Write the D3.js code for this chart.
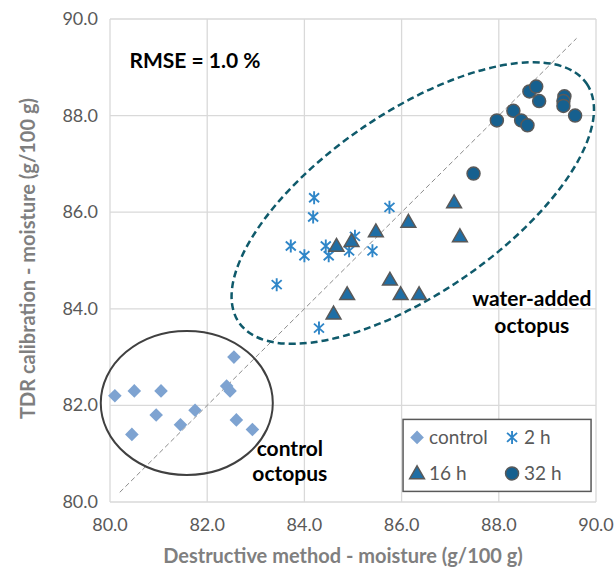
<!DOCTYPE html>
<html>
<head>
<meta charset="utf-8">
<script src="https://cdn.jsdelivr.net/npm/d3@7"></script>
<style>
  body { margin: 0; background: #fff; }
  svg { font-family: Lato, "Open Sans", sans-serif; }
  .grid line { stroke: #d9d9d9; stroke-width: 1.3; }
  .tick-label { fill: #595959; font-size: 18px; }
  .axis-title { fill: #7f7f7f; font-size: 20px; font-weight: 700; }
  .note { fill: #000; font-size: 21px; font-weight: 700; }
  .legend-text { fill: #595959; font-size: 19px; }
</style>
</head>
<body>
<div id="chart"></div>
<script>
/* TDR vs destructive moisture scatter */

const ticks = [80, 82, 84, 86, 88, 90];

// [destructive, TDR]
const control = [
  [80.1, 82.2], [80.5, 82.3], [81.05, 82.3], [80.45, 81.4], [80.95, 81.8],
  [81.45, 81.6], [81.75, 81.9], [82.55, 83.0], [82.4, 82.4], [82.47, 82.3],
  [82.6, 81.7], [82.93, 81.5]
];
const h2 = [
  [84.2, 86.3], [84.18, 85.9], [83.72, 85.3], [84.0, 85.1], [84.44, 85.3],
  [84.5, 85.1], [85.04, 85.5], [84.92, 85.2], [85.4, 85.2], [85.75, 86.1],
  [83.43, 84.5], [84.3, 83.6]
];
const h16 = [
  [84.66, 85.3], [84.97, 85.4], [85.47, 85.6], [86.14, 85.8], [85.76, 84.6],
  [84.88, 84.3], [85.98, 84.3], [86.36, 84.3], [84.6, 83.9], [87.08, 86.2],
  [87.2, 85.5]
];
const h32 = [
  [87.48, 86.8], [87.96, 87.9], [88.3, 88.1], [88.46, 87.9], [88.59, 87.8],
  [88.63, 88.5], [88.77, 88.6], [88.83, 88.3], [89.35, 88.4], [89.33, 88.3],
  [89.33, 88.2], [89.57, 88.0]
];

const W = 616, H = 574;
const margin = { top: 19, right: 20, bottom: 72, left: 110 };
const width = W - margin.left - margin.right;
const height = H - margin.top - margin.bottom;

const svg = d3.select("#chart").append("svg")
    .attr("width", W)
    .attr("height", H);

const g = svg.append("g")
    .attr("transform", `translate(${margin.left},${margin.top})`);

const x = d3.scaleLinear().domain([80, 90]).range([0, width]);
const y = d3.scaleLinear().domain([80, 90]).range([height, 0]);

// GRID
const grid = g.append("g").attr("class", "grid");
grid.selectAll(".gx").data(ticks).enter().append("line")
    .attr("x1", d => x(d)).attr("x2", d => x(d))
    .attr("y1", 0).attr("y2", height);
grid.selectAll(".gy").data(ticks).enter().append("line")
    .attr("x1", 0).attr("x2", width)
    .attr("y1", d => y(d)).attr("y2", d => y(d));

// tick labels
g.selectAll(".xt").data(ticks).enter().append("text")
    .attr("class", "tick-label")
    .attr("x", d => x(d))
    .attr("y", height + 29)
    .attr("text-anchor", "middle")
    .text(d => d.toFixed(1));
g.selectAll(".yt").data(ticks).enter().append("text")
    .attr("class", "tick-label")
    .attr("x", -12)
    .attr("y", d => y(d) + 6)
    .attr("text-anchor", "end")
    .text(d => d.toFixed(1));

// axis titles
g.append("text")
    .attr("class", "axis-title")
    .attr("x", width / 2 - 10)
    .attr("y", height + 61)
    .attr("text-anchor", "middle")
    .text("Destructive method - moisture (g/100 g)");
g.append("text")
    .attr("class", "axis-title")
    .attr("transform", "rotate(-90)")
    .attr("x", -height / 2 + 2)
    .attr("y", -75)
    .attr("text-anchor", "middle")
    .text("TDR calibration - moisture (g/100 g)");

// 1:1 line
g.append("line")
    .attr("x1", x(80.2)).attr("y1", y(80.2))
    .attr("x2", x(89.6)).attr("y2", y(89.6))
    .attr("stroke", "#8c8c8c")
    .attr("stroke-width", 1)
    .attr("stroke-dasharray", "5,3");

// ellipses
g.append("ellipse")
    .attr("cx", x(81.58)).attr("cy", y(82.05))
    .attr("rx", x(81.77) - x(80)).attr("ry", y(80) - y(81.49))
    .attr("fill", "none")
    .attr("stroke", "#404040")
    .attr("stroke-width", 2);

g.append("ellipse")
    .attr("transform", `translate(${x(86.23)},${y(86.19)}) rotate(-34.5)`)
    .attr("rx", x(84.34) - x(80)).attr("ry", x(81.86) - x(80))
    .attr("fill", "none")
    .attr("stroke", "#0f5a6b")
    .attr("stroke-width", 2.5)
    .attr("stroke-dasharray", "7,4");

// marker shapes
const diamond = "M0,-6.8L6.8,0L0,6.8L-6.8,0Z";
const triangle = d3.symbol().type(d3.symbolTriangle).size(95);
const star = "M0,-6.5L0,6.5M-5,-4.5L5,4.5M-5,4.5L5,-4.5";

function drawControl(sel) {
  sel.append("path").attr("d", diamond).attr("fill", "#7ea3d1");
}
function drawStar(sel) {
  sel.append("path").attr("d", star).attr("stroke", "#2f86c8")
      .attr("stroke-width", 1.9).attr("fill", "none");
}
function drawTri(sel) {
  sel.append("path").attr("d", triangle()).attr("fill", "#1f6ea5")
      .attr("stroke", "#595959").attr("stroke-width", 1.5)
      .attr("transform", "translate(0,1)");
}
function drawCircle(sel) {
  sel.append("circle").attr("r", 6.5).attr("fill", "#16608f")
      .attr("stroke", "#595959").attr("stroke-width", 1.5);
}

function series(data, draw) {
  const pts = g.append("g").selectAll("g").data(data).enter().append("g")
      .attr("transform", d => `translate(${x(d[0])},${y(d[1])})`);
  draw(pts);
}
series(control, drawControl);
series(h2, drawStar);
series(h16, drawTri);
series(h32, drawCircle);

// annotations
g.append("text").attr("class", "note")
    .attr("x", x(80.4)).attr("y", y(88.98))
    .text("RMSE = 1.0 %");
const wa = g.append("text").attr("class", "note").attr("text-anchor", "middle");
wa.append("tspan").attr("x", x(88.68)).attr("y", y(84.05)).text("water-added");
wa.append("tspan").attr("x", x(88.68)).attr("y", y(83.5)).text("octopus");
const co = g.append("text").attr("class", "note").attr("text-anchor", "middle");
co.append("tspan").attr("x", x(83.7)).attr("y", y(80.95)).text("control");
co.append("tspan").attr("x", x(83.7)).attr("y", y(80.43)).text("octopus");

// LEGEND
const legend = g.append("g")
    .attr("transform", `translate(${x(86.03)},${y(81.71)})`);
legend.append("rect")
    .attr("width", 188).attr("height", 72)
    .attr("fill", "#fff")
    .attr("stroke", "#595959").attr("stroke-width", 1.5);

const legendItems = [
  { label: "control", draw: drawControl, col: 0, row: 0 },
  { label: "2 h", draw: drawStar, col: 1, row: 0 },
  { label: "16 h", draw: drawTri, col: 0, row: 1 },
  { label: "32 h", draw: drawCircle, col: 1, row: 1 }
];
legendItems.forEach(d => {
  const item = legend.append("g")
      .attr("transform", `translate(${14 + d.col * 95},${18 + d.row * 36})`);
  d.draw(item);
  item.append("text").attr("class", "legend-text")
      .attr("x", 12).attr("y", 7).text(d.label);
});
</script>
</body>
</html>
